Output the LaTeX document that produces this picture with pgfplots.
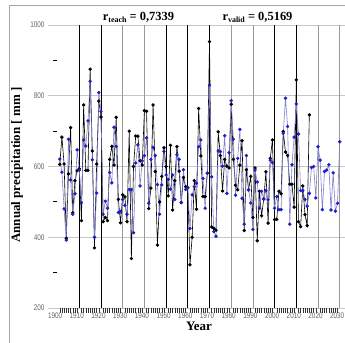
\documentclass[border=0pt]{standalone}
\usepackage{fontspec}
\setmainfont{Liberation Serif}
\newfontfamily\tickfont[FakeStretch=0.78]{Liberation Sans}
\usepackage{pgfplots}
\pgfplotsset{compat=1.18}
\usepackage{pgfplotstable}
\definecolor{bluemark}{RGB}{30,30,200}
\definecolor{blueline}{RGB}{125,125,205}

\pgfplotstableread{
year obs
1901 606
1902 683
1903 607
1904 397
1905 579
1906 710
1907 469
1908 560
1909 588
1910 594
1911 447
1912 774
1913 589
1914 589
1915 875
1916 644
1917 370
1918 607
1919 785
1920 740
1921 444
1922 456
1923 447
1924 620
1925 657
1926 604
1927 739
1928 507
1929 441
1930 520
1931 514
1932 444
1933 700
1934 340
1935 600
1936 686
1937 686
1938 616
1939 604
1940 758
1941 756
1942 481
1943 539
1944 774
1945 586
1946 378
1947 500
1948 572
1949 653
1950 600
1951 517
1952 660
1953 477
1954 560
1955 656
1956 587
1957 498
1958 569
1959 543
1960 540
1961 322
1962 400
1963 560
1964 479
1965 764
1966 630
1967 515
1968 515
1969 581
1970 953
1971 429
1972 425
1973 420
1974 698
1975 631
1976 531
1977 620
1978 601
1979 596
1980 776
1981 620
1982 547
1983 534
1984 604
1985 673
1986 419
1987 591
1988 534
1989 572
1990 456
1991 596
1992 390
1993 530
1994 461
1995 508
1996 585
1997 440
1998 623
1999 675
2000 450
2001 451
2002 530
2003 523
2004 699
2005 641
2006 631
2007 550
2008 550
2009 485
2010 845
2011 444
2012 430
2013 545
2014 464
2015 433
2016 746
}\obsdata

\pgfplotstableread{
year mod
1901 621
1902 584
1903 480
1904 392
1905 677
1906 562
1907 465
1908 523
1909 647
1910 590
1911 498
1912 675
1913 658
1914 729
1915 841
1916 619
1917 400
1918 525
1919 809
1920 755
1921 465
1922 502
1923 482
1924 583
1925 554
1926 711
1927 657
1928 470
1929 472
1930 507
1931 490
1932 465
1933 535
1934 535
1935 413
1936 610
1937 661
1938 545
1939 616
1940 631
1941 681
1942 496
1943 620
1944 654
1945 631
1946 549
1947 465
1948 548
1949 643
1950 576
1951 563
1952 536
1953 576
1954 507
1955 633
1956 620
1957 498
1958 591
1959 535
1960 540
1961 425
1962 520
1963 543
1964 553
1965 656
1966 675
1967 566
1968 482
1969 581
1970 830
1971 571
1972 416
1973 403
1974 644
1975 642
1976 601
1977 687
1978 524
1979 639
1980 786
1981 677
1982 519
1983 623
1984 705
1985 510
1986 437
1987 631
1988 534
1989 497
1990 422
1991 590
1992 556
1993 482
1994 530
1995 508
1996 532
1997 506
1998 618
1999 611
2000 482
2001 515
2002 478
2003 478
2004 694
2005 793
2006 713
2007 437
2008 605
2009 683
2010 777
2011 692
2012 532
2013 532
2014 507
2015 488
2016 524
2017 597
2018 600
2019 511
2020 656
2021 618
2022 478
2023 586
2024 590
2025 605
2026 477
2027 582
2028 474
2029 496
2030 670
}\moddata

\begin{document}
\begin{tikzpicture}[x=1bp,y=1bp]
\path[use as bounding box] (0,0) rectangle (345,343);
\draw[black!35, line width=0.7bp] (9,0) -- (9,338) -- (345,338);
\begin{axis}[
  at={(48bp,35bp)}, anchor=south west, scale only axis,
  width=297bp, height=283bp,
  xmin=1895.58, xmax=2032.44, ymin=200, ymax=1000,
  axis line style={draw=none},
  xtick={1900,1910,...,2030},
  minor x tick num=9,
  ytick={200,400,...,1000},
  xtick pos=bottom, ytick pos=left,
  tick align=outside,
  major tick length=0pt,
  minor tick length=4.5bp,
  minor tick style={black!80, line width=0.5bp},
  ymajorgrids, grid style={black!22, line width=0.6bp},
  /pgf/number format/assume math mode=true,
  xticklabel style={font=\tickfont\fontsize{8.2}{9}\selectfont, text=black!60, xshift=-2.5bp, yshift=-1bp, /pgf/number format/1000 sep={}},
  yticklabel style={font=\tickfont\fontsize{8.2}{9}\selectfont, text=black!60, /pgf/number format/1000 sep={}},
  clip=false,
]
\pgfplotsinvokeforeach{1930,1940,1980,1990,2020,2030}{
  \draw[black!40, line width=0.7bp] (axis cs:#1,200) -- (axis cs:#1,1000);
}
\pgfplotsinvokeforeach{1910,1920,1950,1960,1970,2000,2010}{
  \draw[black, line width=0.7bp] (axis cs:#1,200) -- (axis cs:#1,1000);
}
\pgfplotsinvokeforeach{300,500,700,900}{
  \draw[black, line width=0.8bp] (axis cs:1897.9,#1) -- (axis cs:1899.7,#1);
}
\addplot[black, line width=0.6bp, mark=*, mark size=1.4bp, mark options={fill=black}] table[x=year,y=obs]{\obsdata};
\addplot[blueline, line width=0.6bp, mark=*, mark size=1.4bp, mark options={draw=bluemark, fill=bluemark}] table[x=year,y=mod]{\moddata};
\end{axis}
\node[font=\bfseries\fontsize{12.5}{14}\selectfont, inner sep=0] at (138.5,326) {r\raisebox{-0.35ex}{\fontsize{8}{9}\selectfont teach} = 0,7339};
\node[font=\bfseries\fontsize{12.5}{14}\selectfont, inner sep=0] at (257.5,326) {r\raisebox{-0.35ex}{\fontsize{8}{9}\selectfont valid} = 0,5169};
\node[font=\bfseries\fontsize{13}{14}\selectfont, inner sep=0, rotate=90] at (17,178) {Annual precipitation [ mm ]};
\node[font=\bfseries\fontsize{13}{14}\selectfont, inner sep=0] at (199,17) {Year};
\end{tikzpicture}
\end{document}
